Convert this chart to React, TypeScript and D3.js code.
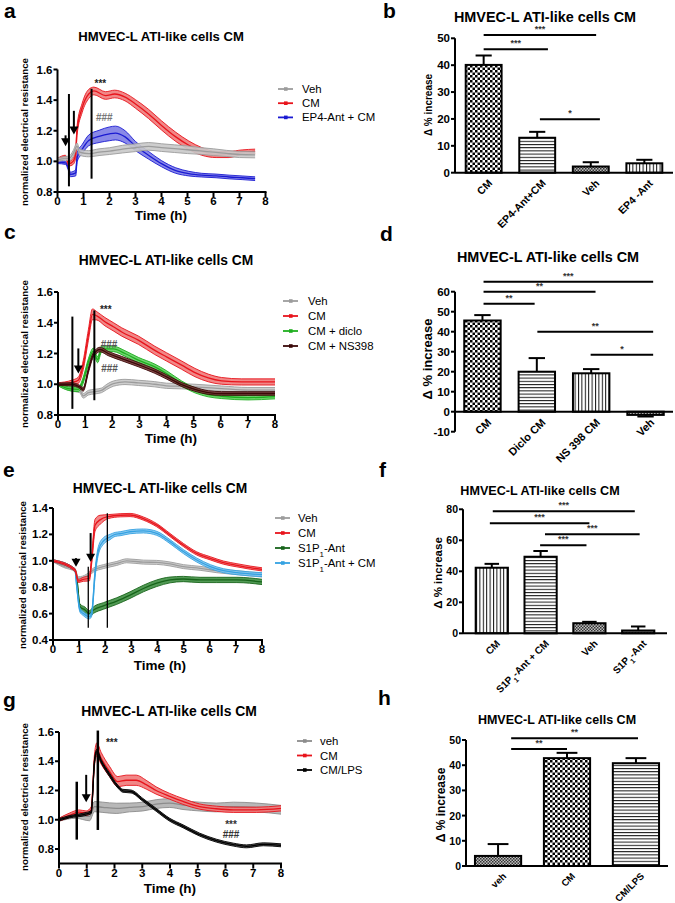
import React from "react";
import * as d3 from "d3";

type Pt = [number, number, number];

const FONT = "'Liberation Sans', Arial, Helvetica, sans-serif";
const TITLE = "HMVEC-L ATI-like cells CM";

// ---------- Panel a data ----------
const aVeh: Pt[] = [[0,1.01,0.012],[0.3,1.02,0.012],[0.45,1.02,0.015],[0.6,1.05,0.02],[0.75,1.1,0.02],[0.85,1.06,0.02],[1.2,1.05,0.02],[1.6,1.06,0.022],[2,1.067,0.022],[2.5,1.08,0.025],[3,1.089,0.025],[3.5,1.098,0.025],[4,1.09,0.025],[4.5,1.083,0.025],[5,1.076,0.025],[5.5,1.068,0.022],[6,1.06,0.022],[6.5,1.052,0.02],[7,1.045,0.02],[7.6,1.043,0.02]];
const aCM: Pt[] = [[0,1.01,0.01],[0.3,1.03,0.01],[0.44,0.985,0.015],[0.6,1.0,0.02],[0.7,1.05,0.03],[0.75,1.2,0.03],[0.95,1.35,0.03],[1.2,1.44,0.03],[1.4,1.46,0.025],[1.85,1.43,0.025],[2.2,1.44,0.025],[2.6,1.42,0.025],[3,1.375,0.028],[3.5,1.31,0.03],[4,1.235,0.03],[4.55,1.16,0.03],[5.05,1.105,0.028],[5.55,1.065,0.025],[6.1,1.045,0.02],[6.6,1.045,0.02],[7.1,1.06,0.015],[7.6,1.065,0.015]];
const aEP4: Pt[] = [[0,0.996,0.01],[0.31,0.99,0.01],[0.41,0.96,0.015],[0.5,0.915,0.015],[0.7,0.925,0.02],[0.76,1.03,0.03],[0.95,1.08,0.03],[1.2,1.137,0.035],[1.6,1.163,0.04],[2,1.18,0.045],[2.23,1.185,0.045],[2.6,1.16,0.04],[3,1.1,0.03],[3.5,1.04,0.025],[4,0.985,0.02],[4.55,0.94,0.018],[5.05,0.92,0.015],[5.55,0.91,0.012],[6.1,0.905,0.012],[6.6,0.898,0.012],[7.1,0.893,0.012],[7.6,0.887,0.012]];
const aVLines: [number, number, number][] = [[0.44, 1.44, 0.837], [1.31, 1.474, 0.887]];
const aArrows: [number, number, number][] = [[0.31, 1.17, 1.098], [0.63, 1.33, 1.176]];
const aMarks: [number, number, string, string][] = [[1.65, 1.51, "***", "#222"], [1.8, 1.29, "###", "#777"]];

// ---------- Panel c data ----------
const cVeh: Pt[] = [[0,1.0,0.01],[0.5,0.97,0.015],[0.8,0.96,0.015],[0.93,0.925,0.015],[1.12,0.945,0.015],[1.6,0.96,0.015],[1.8,0.983,0.017],[2.04,1.004,0.017],[2.47,1.015,0.017],[2.96,1.009,0.017],[3.57,1.0,0.017],[4,0.99,0.017],[4.56,0.987,0.017],[5.05,0.983,0.017],[6.03,0.972,0.017],[7,0.962,0.017],[8,0.962,0.017]];
const cCM: Pt[] = [[0,1.0,0.01],[0.5,1.011,0.015],[0.75,1.026,0.02],[0.93,1.124,0.03],[1.12,1.32,0.035],[1.27,1.455,0.035],[1.43,1.445,0.027],[1.73,1.407,0.027],[2.04,1.374,0.027],[2.35,1.34,0.027],[2.96,1.287,0.027],[3.57,1.22,0.027],[4,1.178,0.027],[4.56,1.124,0.027],[5.05,1.076,0.027],[5.54,1.041,0.025],[6.03,1.022,0.022],[6.77,1.015,0.02],[8,1.015,0.02]];
const cDiclo: Pt[] = [[0,1.0,0.01],[0.38,0.972,0.012],[0.75,0.967,0.015],[0.93,1.026,0.02],[1.12,1.146,0.02],[1.3,1.215,0.02],[1.46,1.16,0.02],[1.61,1.23,0.02],[2.04,1.23,0.018],[2.47,1.2,0.018],[2.96,1.157,0.018],[3.57,1.113,0.018],[4,1.07,0.018],[4.56,1.004,0.017],[5.05,0.96,0.016],[5.54,0.933,0.015],[6.03,0.922,0.015],[7,0.913,0.015],[8,0.92,0.015]];
const cNS: Pt[] = [[0,1.0,0.008],[0.5,1.0,0.01],[0.8,0.983,0.01],[0.93,0.967,0.012],[1.12,1.09,0.015],[1.3,1.19,0.015],[1.55,1.226,0.015],[1.85,1.2,0.014],[2.35,1.167,0.014],[2.96,1.128,0.014],[3.57,1.085,0.014],[4,1.048,0.014],[4.56,0.998,0.013],[5.05,0.967,0.013],[5.54,0.946,0.012],[6.03,0.94,0.012],[7,0.94,0.012],[8,0.94,0.012]];
const cVLines: [number, number, number][] = [[0.53, 1.44, 0.84], [1.34, 1.48, 0.896]];
const cArrows: [number, number, number][] = [[0.75, 1.233, 1.07]];
const cMarks: [number, number, string, string][] = [[1.76, 1.49, "***", "#222"], [1.88, 1.265, "###", "#555"], [1.9, 1.105, "###", "#555"]];

// ---------- Panel e data ----------
const eVeh: Pt[] = [[0,1.0,0.008],[0.4,0.96,0.01],[0.84,0.93,0.012],[0.97,0.867,0.012],[1.29,0.885,0.014],[1.55,0.93,0.015],[1.93,0.956,0.015],[2.44,0.98,0.015],[2.82,1.0,0.015],[3.46,0.99,0.015],[3.97,0.988,0.015],[4.48,0.976,0.015],[4.99,0.956,0.015],[5.63,0.943,0.015],[6.27,0.925,0.015],[7.04,0.91,0.015],[8,0.892,0.015]];
const eCM: Pt[] = [[0,1.0,0.008],[0.84,0.93,0.01],[0.97,0.847,0.012],[1.16,0.86,0.015],[1.39,0.867,0.02],[1.48,1.006,0.03],[1.61,1.27,0.045],[1.8,1.31,0.035],[2.12,1.335,0.015],[2.57,1.345,0.012],[2.95,1.347,0.012],[3.46,1.32,0.012],[3.97,1.27,0.012],[4.48,1.195,0.012],[4.99,1.12,0.012],[5.5,1.056,0.012],[6.02,1.019,0.012],[6.53,0.986,0.012],[7.04,0.966,0.012],[7.55,0.948,0.012],[8,0.935,0.012]];
const eS1P1: Pt[] = [[0,1.0,0.008],[0.84,0.93,0.01],[0.93,0.83,0.015],[1.03,0.653,0.02],[1.23,0.627,0.022],[1.39,0.6,0.022],[1.55,0.627,0.025],[1.93,0.658,0.025],[2.44,0.695,0.025],[2.95,0.74,0.025],[3.46,0.79,0.025],[3.97,0.83,0.025],[4.48,0.855,0.022],[4.99,0.862,0.02],[5.63,0.855,0.02],[6.27,0.855,0.02],[7.04,0.855,0.02],[8,0.84,0.02]];
const eS1P1CM: Pt[] = [[0,1.0,0.008],[0.84,0.93,0.01],[0.91,0.804,0.015],[1.03,0.627,0.015],[1.16,0.6,0.015],[1.39,0.575,0.015],[1.48,0.6,0.02],[1.61,0.905,0.03],[1.74,1.08,0.03],[1.93,1.15,0.025],[2.18,1.18,0.02],[2.38,1.2,0.015],[2.57,1.205,0.015],[2.95,1.22,0.015],[3.46,1.226,0.015],[3.97,1.208,0.015],[4.48,1.145,0.015],[4.99,1.07,0.015],[5.5,1.006,0.015],[6.02,0.956,0.015],[6.53,0.925,0.015],[7.04,0.91,0.015],[8,0.895,0.015]];
const eVLines: [number, number, number][] = [[1.35, 0.955, 0.493], [2.08, 1.36, 0.493]];
const eArrows: [number, number, number][] = [[0.88, 1.02, 0.955], [1.44, 1.21, 0.993]];

// ---------- Panel g data ----------
const gVeh: Pt[] = [[0,1.0,0.01],[0.61,1.03,0.02],[1.1,1.023,0.03],[1.28,1.09,0.035],[1.58,1.085,0.035],[2.06,1.078,0.035],[2.54,1.084,0.03],[3.02,1.09,0.03],[3.5,1.107,0.03],[3.99,1.114,0.03],[4.47,1.1,0.03],[5.07,1.09,0.03],[5.67,1.084,0.03],[6.28,1.09,0.03],[7.12,1.084,0.03],[8,1.068,0.03]];
const gCM: Pt[] = [[0,1.0,0.01],[0.37,1.03,0.015],[0.73,1.052,0.015],[0.98,1.045,0.015],[1.16,1.068,0.02],[1.28,1.41,0.04],[1.36,1.48,0.045],[1.52,1.42,0.04],[1.82,1.33,0.035],[2.12,1.26,0.035],[2.42,1.27,0.035],[2.78,1.27,0.035],[3.14,1.24,0.03],[3.5,1.2,0.025],[3.99,1.16,0.02],[4.47,1.125,0.02],[5.07,1.09,0.018],[5.67,1.075,0.018],[6.28,1.068,0.018],[7.12,1.068,0.018],[8,1.078,0.018]];
const gLPS: Pt[] = [[0,1.0,0.008],[0.37,1.02,0.008],[0.98,1.04,0.01],[1.16,1.052,0.01],[1.28,1.4,0.015],[1.36,1.466,0.015],[1.52,1.4,0.012],[1.82,1.307,0.012],[2.12,1.227,0.01],[2.3,1.198,0.01],[2.6,1.193,0.01],[3.02,1.136,0.01],[3.5,1.068,0.01],[3.99,1.0,0.01],[4.47,0.955,0.01],[5.07,0.898,0.01],[5.67,0.857,0.01],[6.28,0.83,0.01],[6.76,0.818,0.01],[7.36,0.832,0.01],[8,0.825,0.01]];
const gVLines: [number, number, number][] = [[0.64, 1.26, 0.864], [1.4, 1.61, 0.93]];
const gArrows: [number, number, number][] = [[0.98, 1.307, 1.12]];
const gMarks: [number, number, string, string][] = [[1.9, 1.53, "***", "#222"], [6.2, 0.97, "***", "#333"], [6.2, 0.905, "###", "#333"]];

// ---------- Bar panel data ----------
const bCats = ["CM", "EP4-Ant+CM", "Veh", "EP4 -Ant"];
const bVals = [40.1, 13.0, 2.3, 3.5];
const bErrTop = [43.6, 15.2, 3.9, 4.8];
const bSig: [number, number, number, string][] = [[0, 2.1, 51.2, "***"], [0, 1.2, 45.9, "***"], [1.05, 2.17, 19.9, "*"]];

const dCats = ["CM", "Diclo CM", "NS 398 CM", "Veh"];
const dVals = [45.6, 20.0, 19.2, -1.6];
const dErrTop = [48.3, 26.8, 21.3, -2.4];
const dSig: [number, number, number, string][] = [[0.02, 3.14, 65, "***"], [0.02, 2.08, 60, "**"], [0.02, 0.96, 54, "**"], [1.01, 3.14, 40, "**"], [1.99, 3.14, 28.5, "*"]];

const fCats = ["CM", "S1P₁-Ant + CM", "Veh", "S1P₁-Ant"];
const fVals = [42.3, 49.4, 6.5, 1.8];
const fErrTop = [44.8, 53.1, 7.4, 4.4];
const fSig: [number, number, number, string][] = [[0.02, 2.93, 78.7, "***"], [-0.04, 2.0, 71, "***"], [1.09, 3.03, 63.9, "***"], [0.99, 1.94, 56.8, "***"]];

const hCats = ["veh", "CM", "CM/LPS"];
const hVals = [4.0, 42.8, 40.8];
const hErrTop = [8.7, 44.9, 42.8];
const hSig: [number, number, number, string][] = [[0.19, 2.03, 50.7, "**"], [0.19, 1.0, 46.4, "**"]];

const lineTicks08 = [0.8, 1.0, 1.2, 1.4, 1.6];
const lineTicks04 = [0.4, 0.6, 0.8, 1.0, 1.2, 1.4];
const timeTicks = [0, 1, 2, 3, 4, 5, 6, 7, 8];

function rich(s: string) {
  const parts = s.split("₁");
  const out: React.ReactNode[] = [];
  parts.forEach((p, i) => {
    if (i > 0) out.push(<tspan key={"s" + i} baselineShift="sub" fontSize="0.7em">1</tspan>);
    out.push(<tspan key={"p" + i}>{p}</tspan>);
  });
  return out;
}

type SeriesDef = { name: string; color: string; band: string; data: Pt[] };

type LineProps = {
  letter: string; letterPos: [number, number];
  titlePos: [number, number]; titleSize: number;
  xr: [number, number]; yd: [number, number]; yr: [number, number];
  yTicks: number[]; yLabelPos: [number, number];
  timePos: [number, number];
  series: SeriesDef[]; legendOrder: number[];
  legend: { x: number; y: number; dy: number; textX: number };
  vlines: [number, number, number][]; vlineW: number;
  arrows: [number, number, number][];
  marks: [number, number, string, string][];
  idp: string;
};

function LinePanel(p: LineProps) {
  const x = d3.scaleLinear().domain([0, 8]).range(p.xr);
  const y = d3.scaleLinear().domain(p.yd).range(p.yr);
  const area = d3.area<Pt>().x(d => x(d[0])).y0(d => y(d[1] - d[2])).y1(d => y(d[1] + d[2])).curve(d3.curveMonotoneX);
  const lineM = d3.line<Pt>().x(d => x(d[0])).y(d => y(d[1])).curve(d3.curveMonotoneX);
  const lineU = d3.line<Pt>().x(d => x(d[0])).y(d => y(d[1] + d[2])).curve(d3.curveMonotoneX);
  const lineL = d3.line<Pt>().x(d => x(d[0])).y(d => y(d[1] - d[2])).curve(d3.curveMonotoneX);
  const [x0, x1] = p.xr;
  const yb = p.yr[0];
  const yt = y(p.yTicks[p.yTicks.length - 1]);
  return (
    <g fontFamily={FONT}>
      <text x={p.letterPos[0]} y={p.letterPos[1]} fontSize={21} fontWeight="bold">{p.letter}</text>
      <text x={p.titlePos[0]} y={p.titlePos[1]} fontSize={p.titleSize} fontWeight="bold" textAnchor="middle">{TITLE}</text>
      {p.series.map((s, i) => (
        <g key={i}>
          <path d={area(s.data) || ""} fill={s.band} opacity={0.9} />
          <path d={lineU(s.data) || ""} fill="none" stroke={s.color} strokeWidth={0.9} />
          <path d={lineL(s.data) || ""} fill="none" stroke={s.color} strokeWidth={0.9} />
          <path d={lineM(s.data) || ""} fill="none" stroke={s.color} strokeWidth={1.3} />
        </g>
      ))}
      {p.vlines.map((v, i) => (
        <line key={"v" + i} x1={x(v[0])} x2={x(v[0])} y1={y(v[1])} y2={y(v[2])} stroke="#000" strokeWidth={p.vlineW} />
      ))}
      {p.arrows.map((a, i) => {
        const ax = x(a[0]);
        const tip = y(a[2]);
        const top = y(a[1]);
        const hl = 8;
        return (
          <g key={"a" + i}>
            <line x1={ax} x2={ax} y1={top} y2={tip - hl + 1} stroke="#000" strokeWidth={2} />
            <path d={`M${ax - 4.5},${tip - hl} L${ax + 4.5},${tip - hl} L${ax},${tip} Z`} fill="#000" />
          </g>
        );
      })}
      {p.marks.map((m, i) => (
        <text key={"m" + i} x={x(m[0])} y={y(m[1]) + 4} fontSize={10} fontWeight="bold" fill={m[3]} textAnchor="middle">{m[2]}</text>
      ))}
      {/* axes */}
      <line x1={x0} x2={x0} y1={yt} y2={yb} stroke="#000" strokeWidth={2} />
      <line x1={x0 - 1} x2={x1 + 1} y1={yb} y2={yb} stroke="#000" strokeWidth={2} />
      {p.yTicks.map((t, i) => (
        <g key={"yt" + i}>
          <line x1={x0 - 4} x2={x0} y1={y(t)} y2={y(t)} stroke="#000" strokeWidth={2} />
          <text x={x0 - 5} y={y(t) + 4} fontSize={11.5} fontWeight="bold" textAnchor="end">{t.toFixed(1)}</text>
        </g>
      ))}
      {timeTicks.map((t, i) => (
        <g key={"xt" + i}>
          <line x1={x(t)} x2={x(t)} y1={yb} y2={yb + 5} stroke="#000" strokeWidth={2} />
          <text x={x(t)} y={yb + 13} fontSize={11.5} fontWeight="bold" textAnchor="middle">{t}</text>
        </g>
      ))}
      <text x={p.timePos[0]} y={p.timePos[1]} fontSize={13.5} fontWeight="bold" textAnchor="middle">Time (h)</text>
      <text transform={`translate(${p.yLabelPos[0]},${p.yLabelPos[1]}) rotate(-90)`} fontSize={9.8} fontWeight="bold" textAnchor="middle">normalized electrical resistance</text>
      {p.legendOrder.map((si, i) => {
        const s = p.series[si];
        const ly = p.legend.y + i * p.legend.dy;
        return (
          <g key={"l" + i}>
            <line x1={p.legend.x} x2={p.legend.x + 15} y1={ly} y2={ly} stroke={s.color} strokeWidth={1.8} />
            <rect x={p.legend.x + 6} y={ly - 1.8} width={3.6} height={3.6} fill={s.color} />
            <text x={p.legend.textX} y={ly + 4} fontSize={11.4}>{rich(s.name)}</text>
          </g>
        );
      })}
    </g>
  );
}

type BarProps = {
  letter: string; letterPos: [number, number];
  titlePos: [number, number]; titleSize: number;
  cats: string[]; vals: number[]; errTop: number[]; patterns: string[];
  sig: [number, number, number, string][];
  xr: [number, number]; padIn: number; padOut: number;
  yd: [number, number]; yr: [number, number]; yTicks: number[];
  yLabelPos: [number, number]; yLabelSize: number; tickSize: number; catSize: number;
};

function BarPanel(p: BarProps) {
  const x = d3.scaleBand<string>().domain(p.cats).range(p.xr).paddingInner(p.padIn).paddingOuter(p.padOut);
  const y = d3.scaleLinear().domain(p.yd).range(p.yr);
  const bw = x.bandwidth();
  const step = x.step();
  const c0 = (x(p.cats[0]) || 0) + bw / 2;
  const fx = (idx: number) => c0 + idx * step;
  const y0 = y(0);
  const [ax0, ax1] = p.xr;
  return (
    <g fontFamily={FONT}>
      <text x={p.letterPos[0]} y={p.letterPos[1]} fontSize={21} fontWeight="bold">{p.letter}</text>
      <text x={p.titlePos[0]} y={p.titlePos[1]} fontSize={p.titleSize} fontWeight="bold" textAnchor="middle">{TITLE}</text>
      {p.cats.map((c, i) => {
        const bx = x(c) || 0;
        const v = p.vals[i];
        const top = Math.min(y(v), y0);
        const h = Math.abs(y(v) - y0);
        const cx = bx + bw / 2;
        const cap = bw * 0.45;
        return (
          <g key={c}>
            <line x1={cx} x2={cx} y1={y(v)} y2={y(p.errTop[i])} stroke="#000" strokeWidth={2} />
            <line x1={cx - cap / 2} x2={cx + cap / 2} y1={y(p.errTop[i])} y2={y(p.errTop[i])} stroke="#000" strokeWidth={2} />
            <rect x={bx} y={top} width={bw} height={h} fill={`url(#${p.patterns[i]})`} stroke="#000" strokeWidth={2} />
            <text transform={`translate(${cx + 4},${y0 + 6}) rotate(-45)`} fontSize={p.catSize} fontWeight="bold" textAnchor="end" dy="0.7em">{rich(c)}</text>
          </g>
        );
      })}
      {p.sig.map((s, i) => {
        const xa = fx(s[0]);
        const xb = fx(s[1]);
        const yy = y(s[2]);
        return (
          <g key={"s" + i}>
            <line x1={xa} x2={xb} y1={yy} y2={yy} stroke="#000" strokeWidth={2} />
            <text x={(xa + xb) / 2} y={yy - 3} fontSize={9} fontWeight="bold" textAnchor="middle" fill="#333">{s[3]}</text>
          </g>
        );
      })}
      <line x1={ax0} x2={ax0} y1={y(p.yd[1])} y2={y(p.yd[0])} stroke="#000" strokeWidth={2} />
      <line x1={ax0} x2={ax1} y1={y0} y2={y0} stroke="#000" strokeWidth={2} />
      {p.yTicks.map((t, i) => (
        <g key={"t" + i}>
          <line x1={ax0 - 4} x2={ax0} y1={y(t)} y2={y(t)} stroke="#000" strokeWidth={2} />
          <text x={ax0 - 5} y={y(t) + 4} fontSize={p.tickSize} fontWeight="bold" textAnchor="end">{t}</text>
        </g>
      ))}
      <text transform={`translate(${p.yLabelPos[0]},${p.yLabelPos[1]}) rotate(-90)`} fontSize={p.yLabelSize} fontWeight="bold" textAnchor="middle">Δ % increase</text>
    </g>
  );
}

const GRAY = { color: "#9c9c9c", band: "#c9c9c9" };
const RED = { color: "#e8141c", band: "#f07a7a" };

export default function App() {
  return (
    <svg width={675} height={903} style={{ position: "absolute", left: 0, top: 0, background: "#fff" }}>
      <defs>
        <pattern id="checker" width={5} height={5} patternUnits="userSpaceOnUse">
          <rect width={5} height={5} fill="#fff" />
          <rect width={2.5} height={2.5} fill="#000" />
          <rect x={2.5} y={2.5} width={2.5} height={2.5} fill="#000" />
        </pattern>
        <pattern id="fine" width={3} height={3} patternUnits="userSpaceOnUse">
          <rect width={3} height={3} fill="#bdbdbd" />
          <rect width={1.5} height={1.5} fill="#333" />
          <rect x={1.5} y={1.5} width={1.5} height={1.5} fill="#333" />
        </pattern>
        <pattern id="hlines" width={4} height={3.2} patternUnits="userSpaceOnUse">
          <rect width={4} height={3.2} fill="#fff" />
          <rect width={4} height={1} fill="#111" />
        </pattern>
        <pattern id="vlines" width={3.4} height={4} patternUnits="userSpaceOnUse">
          <rect width={3.4} height={4} fill="#fff" />
          <rect width={1} height={4} fill="#111" />
        </pattern>
      </defs>
      <rect width={675} height={903} fill="#fff" />

      <LinePanel idp="a" letter="a" letterPos={[4, 18]} titlePos={[161, 41]} titleSize={13.1}
        xr={[57.5, 265.5]} yd={[0.8, 1.6]} yr={[192, 69.5]} yTicks={lineTicks08} yLabelPos={[28, 132]} timePos={[161, 220]}
        series={[
          { name: "EP4-Ant + CM", color: "#1a1ad2", band: "#7c7ce6", data: aEP4 },
          { name: "CM", ...RED, data: aCM },
          { name: "Veh", ...GRAY, data: aVeh },
        ]}
        legendOrder={[2, 1, 0]} legend={{ x: 278, y: 89, dy: 14.2, textX: 302 }}
        vlines={aVLines} vlineW={2} arrows={aArrows} marks={aMarks} />

      <LinePanel idp="c" letter="c" letterPos={[4, 239]} titlePos={[166, 265]} titleSize={13.8}
        xr={[58, 275]} yd={[0.8, 1.6]} yr={[415, 292]} yTicks={lineTicks08} yLabelPos={[28, 354]} timePos={[171, 443]}
        series={[
          { name: "Veh", ...GRAY, data: cVeh },
          { name: "CM", ...RED, data: cCM },
          { name: "CM + diclo", color: "#1fae1f", band: "#5fcf5f", data: cDiclo },
          { name: "CM + NS398", color: "#3a0808", band: "#7a3a3a", data: cNS },
        ]}
        legendOrder={[0, 1, 2, 3]} legend={{ x: 283, y: 301, dy: 15, textX: 308 }}
        vlines={cVLines} vlineW={2} arrows={cArrows} marks={cMarks} />

      <LinePanel idp="e" letter="e" letterPos={[3, 477]} titlePos={[160, 493]} titleSize={13.8}
        xr={[53, 262]} yd={[0.4, 1.4]} yr={[640, 508]} yTicks={lineTicks04} yLabelPos={[26, 575]} timePos={[160, 670]}
        series={[
          { name: "Veh", ...GRAY, data: eVeh },
          { name: "S1P₁-Ant", color: "#17641a", band: "#3f8f42", data: eS1P1 },
          { name: "S1P₁-Ant + CM", color: "#34a2e2", band: "#86c6ee", data: eS1P1CM },
          { name: "CM", ...RED, data: eCM },
        ]}
        legendOrder={[0, 3, 1, 2]} legend={{ x: 275, y: 518, dy: 15, textX: 298 }}
        vlines={eVLines} vlineW={1.3} arrows={eArrows} marks={[]} />

      <LinePanel idp="g" letter="g" letterPos={[3, 707]} titlePos={[169, 716]} titleSize={13.9}
        xr={[59, 281]} yd={[0.7, 1.6]} yr={[863.6, 732]} yTicks={lineTicks08} yLabelPos={[28, 797]} timePos={[170, 893]}
        series={[
          { name: "veh", color: "#8c8c8c", band: "#b0b0b0", data: gVeh },
          { name: "CM", ...RED, data: gCM },
          { name: "CM/LPS", color: "#000", band: "#444", data: gLPS },
        ]}
        legendOrder={[0, 1, 2]} legend={{ x: 297, y: 741, dy: 14.5, textX: 320 }}
        vlines={gVLines} vlineW={2.5} arrows={gArrows} marks={gMarks} />

      <BarPanel letter="b" letterPos={[383, 18]} titlePos={[545, 22]} titleSize={14.4}
        cats={bCats} vals={bVals} errTop={bErrTop} patterns={["checker", "hlines", "fine", "vlines"]} sig={bSig}
        xr={[455, 673]} padIn={0.33} padOut={0.2} yd={[0, 50]} yr={[172.7, 38.3]} yTicks={[0, 10, 20, 30, 40, 50]}
        yLabelPos={[432, 105]} yLabelSize={10} tickSize={11.5} catSize={10.5} />

      <BarPanel letter="d" letterPos={[380, 241]} titlePos={[548, 262]} titleSize={14.4}
        cats={dCats} vals={dVals} errTop={dErrTop} patterns={["checker", "hlines", "vlines", "fine"]} sig={dSig}
        xr={[455, 673]} padIn={0.33} padOut={0.17} yd={[-10, 60]} yr={[431.7, 291.7]} yTicks={[-10, 0, 10, 20, 30, 40, 50, 60]}
        yLabelPos={[432, 359]} yLabelSize={13} tickSize={11.5} catSize={11} />

      <BarPanel letter="f" letterPos={[379, 477]} titlePos={[540, 495]} titleSize={12.6}
        cats={fCats} vals={fVals} errTop={fErrTop} patterns={["vlines", "hlines", "fine", "fine"]} sig={fSig}
        xr={[463, 667]} padIn={0.34} padOut={0.26} yd={[0, 80]} yr={[633.3, 509.3]} yTicks={[0, 20, 40, 60, 80]}
        yLabelPos={[442, 573]} yLabelSize={11.5} tickSize={10.5} catSize={10} />

      <BarPanel letter="h" letterPos={[378, 705]} titlePos={[557, 724]} titleSize={12.5}
        cats={hCats} vals={hVals} errTop={hErrTop} patterns={["fine", "checker", "hlines"]} sig={hSig}
        xr={[466, 668]} padIn={0.33} padOut={0.13} yd={[0, 50]} yr={[866, 740]} yTicks={[0, 10, 20, 30, 40, 50]}
        yLabelPos={[445, 805]} yLabelSize={12} tickSize={10.5} catSize={9.6} />
    </svg>
  );
}
